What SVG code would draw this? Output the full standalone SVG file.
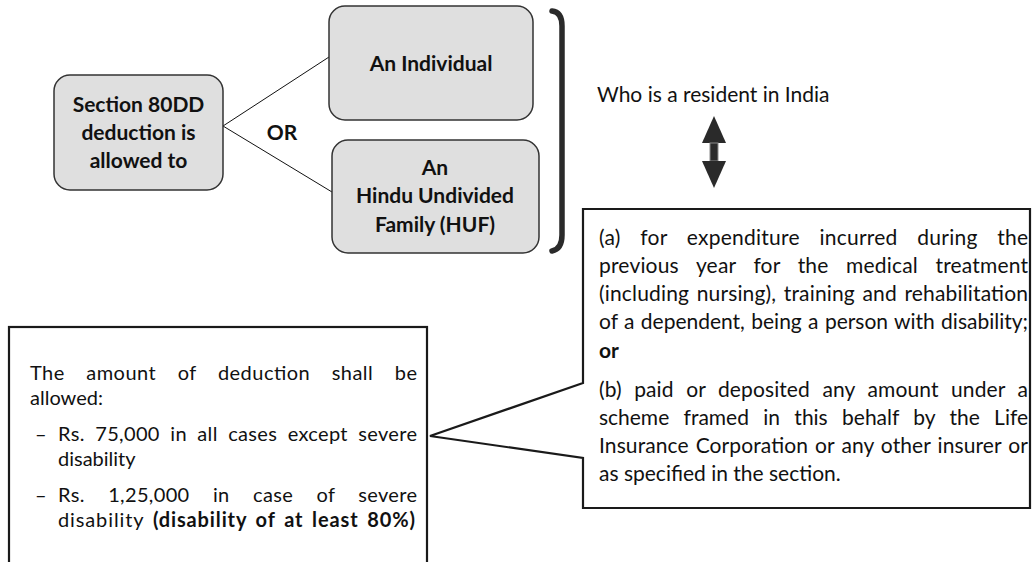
<svg xmlns="http://www.w3.org/2000/svg" width="1033" height="562" viewBox="0 0 1033 562">
<style>
.box{fill:#dfdfdf;stroke:#333;stroke-width:1.5}
.plain{fill:#fff;stroke:#1a1a1a;stroke-width:2.2}
.b{font-weight:bold}
.title{font-family:Lato,"Open Sans",sans-serif;font-weight:bold;font-size:21px;fill:#111;text-anchor:middle}
.body{font-family:Lato,"Open Sans",sans-serif;font-size:21px;fill:#111}
.small{font-family:Lato,"Open Sans",sans-serif;font-size:20px;fill:#111}
.conn{stroke:#111;stroke-width:1;fill:none}
</style>
<rect width="1033" height="562" fill="#fff"/>
<g id="connectors">
<line class="conn" x1="223" y1="126" x2="329" y2="57"/>
<line class="conn" x1="223" y1="126" x2="332" y2="192"/>
</g>
<g id="node-section">
<rect class="box" x="54" y="75" width="169" height="115" rx="16"/>
<text class="title" x="138.5" y="112">Section 80DD</text>
<text class="title" x="138.5" y="140">deduction is</text>
<text class="title" x="138.5" y="168">allowed to</text>
</g>
<g id="label-or">
<text class="title" x="282" y="140">OR</text>
</g>
<g id="node-individual">
<rect class="box" x="329" y="6" width="204" height="114" rx="16"/>
<text class="title" x="431" y="71">An Individual</text>
</g>
<g id="node-huf">
<rect class="box" x="332" y="140" width="207" height="113" rx="16"/>
<text class="title" x="435" y="175">An</text>
<text class="title" x="435" y="203">Hindu Undivided</text>
<text class="title" x="435" y="232">Family (HUF)</text>
</g>
<g id="bracket">
<path d="M552,11 Q562,12 562,26 L562,235 Q562,249 552,251" fill="none" stroke="#2a2a2a" stroke-width="5.5" stroke-linecap="round"/>
</g>
<g id="resident">
<text class="body" x="597" y="102">Who is a resident in India</text>
</g>
<g id="double-arrow">
<polygon points="714,116 726,143 702,143" fill="#2a2a2a"/>
<rect x="710" y="143" width="8" height="18" fill="#2a2a2a" stroke="#8a8a8a" stroke-width="1"/>
<polygon points="702,161 726,161 714,188" fill="#2a2a2a"/>
</g>
<g id="node-conditions">
<path class="plain" d="M583,209 L1030,209 L1030,508 L583,508 L583,458 L430,436 L583,383 Z"/>
<text class="body" x="599" y="245" word-spacing="14" textLength="429" lengthAdjust="spacing">(a) for expenditure incurred during the</text>
<text class="body" x="599" y="273" word-spacing="12" textLength="429" lengthAdjust="spacing">previous year for the medical treatment</text>
<text class="body" x="599" y="301" word-spacing="2" textLength="429" lengthAdjust="spacing">(including nursing), training and rehabilitation</text>
<text class="body" x="599" y="329" word-spacing="1" textLength="429" lengthAdjust="spacing">of a dependent, being a person with disability;</text>
<text class="body b" x="599" y="358">or</text>
<text class="body" x="599" y="397" word-spacing="7" textLength="429" lengthAdjust="spacing">(b) paid or deposited any amount under a</text>
<text class="body" x="599" y="425" word-spacing="9" textLength="429" lengthAdjust="spacing">scheme framed in this behalf by the Life</text>
<text class="body" x="599" y="453" word-spacing="1.5" textLength="429" lengthAdjust="spacing">Insurance Corporation or any other insurer or</text>
<text class="body" x="599" y="481">as specified in the section.</text>
</g>
<g id="node-amount">
<rect class="plain" x="9" y="327" width="418" height="260"/>
<text class="small" x="30" y="380" word-spacing="16" textLength="387" lengthAdjust="spacing">The amount of deduction shall be</text>
<text class="small" x="30" y="405">allowed:</text>
<text class="small" x="35" y="441">–</text>
<text class="small" x="58" y="441" word-spacing="5" textLength="359" lengthAdjust="spacing">Rs. 75,000 in all cases except severe</text>
<text class="small" x="58" y="466">disability</text>
<text class="small" x="35" y="502">–</text>
<text class="small" x="58" y="502" word-spacing="18" textLength="359" lengthAdjust="spacing">Rs. 1,25,000 in case of severe</text>
<text class="small" x="58" y="527" word-spacing="3" textLength="357" lengthAdjust="spacing">disability <tspan class="b">(disability of at least 80%)</tspan></text>
</g>
</svg>
